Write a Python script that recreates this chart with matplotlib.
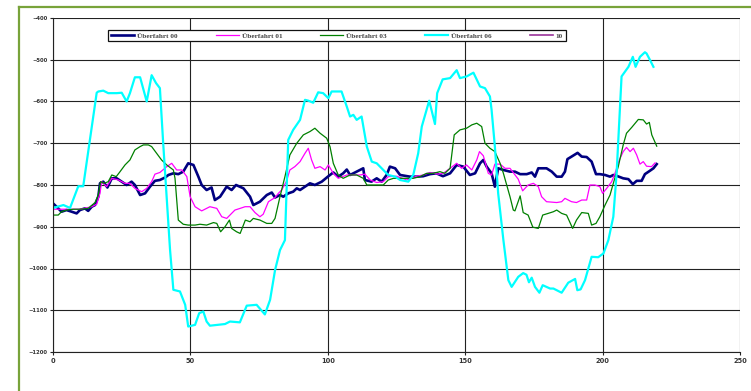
import matplotlib
matplotlib.use("Agg")
import matplotlib.pyplot as plt
from matplotlib.lines import Line2D

# Überfahrt 00
navy_x = [0, 1.3, 3.1, 4.9, 6.8, 8.6, 9.8, 11.6, 12.8, 14.1,
          15.3, 16.5, 17.1, 18.3, 19.8, 21.4, 23.2, 25, 26.8, 28.6,
          29.8, 31.7, 33.5, 35.3, 37.1, 38.9, 40.8, 42, 43.8, 45.6,
          47.4, 49.2, 51.1, 52.9, 54.1, 55.9, 57.7, 58.9, 60.8, 63.2,
          65, 66.6, 69.3, 71.7, 72.9, 75.3, 77.8, 79.6, 80.8, 82.6,
          83.8, 85.6, 87.4, 88.7, 89.9, 91.7, 93.5, 95.3, 97.8, 100.2,
          102, 103.8, 105.6, 106.9, 108.1, 110.5, 112.9, 113.5, 115.9, 117.8,
          119.6, 121.4, 122.6, 124.5, 126.3, 128.1, 129.9, 132.3, 134.7, 137.2,
          139.5, 141.9, 144.5, 146.9, 149.3, 151.7, 153.6, 155.4, 156.6, 157.8,
          159.6, 160.8, 162, 163.9, 166.3, 168.1, 170, 172.4, 174.2, 175.4,
          176.6, 179.6, 181.5, 183.3, 185.1, 186.3, 187.2, 188.7, 190.9, 192.4,
          194.2, 196, 197.6, 199, 200.9, 202.7, 203.9, 205.1, 207.5, 209.4,
          211, 212.4, 214.2, 215.4, 217.2, 218.5, 219.7]
navy_y = [-844, -852, -864, -860, -864, -868, -860, -856, -862, -852,
          -848, -828, -796, -792, -806, -784, -784, -792, -800, -792,
          -800, -824, -820, -804, -790, -788, -782, -776, -772, -774,
          -768, -748, -752, -780, -800, -812, -806, -836, -828, -804,
          -812, -800, -808, -828, -848, -840, -824, -818, -830, -824,
          -828, -820, -816, -808, -812, -804, -796, -800, -792, -779,
          -770, -780, -772, -763, -776, -768, -760, -788, -792, -784,
          -792, -776, -756, -760, -776, -778, -780, -780, -779, -774,
          -772, -779, -772, -752, -756, -776, -772, -748, -740, -756,
          -772, -804, -760, -764, -768, -768, -774, -774, -770, -780,
          -760, -760, -768, -780, -780, -768, -738, -732, -723, -732,
          -733, -744, -774, -774, -776, -780, -776, -778, -784, -786,
          -798, -790, -790, -774, -766, -760, -750]

# Überfahrt 01
mag_x = [0, 4.9, 9.8, 14.1, 15.9, 17.1, 17.7, 19.5, 21.4, 23.8,
         26.2, 28, 29.8, 32.3, 34.1, 35.9, 37.1, 38.9, 41.4, 43.2,
         45, 46.9, 48.7, 49.9, 51.7, 54.1, 57.1, 59.6, 61.4, 63.2,
         64.4, 66.2, 68.1, 69.9, 71.7, 73.5, 75.3, 76.5, 78.4, 80.8,
         82, 83.2, 84.9, 86.2, 88, 89.9, 91.7, 92.9, 94.1, 95.3,
         97.2, 99, 100.2, 102, 103.8, 106.9, 109.3, 111.7, 113.5, 115.4,
         117.8, 120.2, 122, 125.1, 128.7, 132.3, 134.7, 137.2, 140.2, 142,
         144.5, 146.9, 148.7, 150.5, 152.4, 154.2, 155.2, 156.6, 158.4, 159.6,
         160.8, 162.7, 164.5, 166.3, 169.3, 170.9, 172.9, 174.8, 176.6, 177.8,
         179.6, 183.3, 185.1, 186.3, 188.7, 190.5, 192.4, 194.2, 195.4, 197.2,
         199, 200, 201.5, 203.3, 204.5, 206.1, 207.5, 208.7, 210, 211.2,
         212.4, 213.6, 214.8, 216, 217.8, 219.1]
mag_y = [-858, -858, -858, -852, -846, -820, -792, -804, -784, -788,
         -796, -796, -808, -816, -808, -792, -774, -770, -756, -748,
         -764, -764, -780, -828, -852, -862, -852, -856, -876, -880,
         -872, -860, -856, -852, -852, -866, -876, -870, -840, -830,
         -820, -812, -792, -764, -756, -744, -724, -712, -740, -760,
         -756, -764, -752, -772, -784, -776, -776, -776, -774, -788,
         -794, -792, -780, -779, -788, -779, -776, -770, -774, -772,
         -760, -748, -760, -752, -764, -740, -720, -730, -772, -776,
         -750, -750, -760, -760, -786, -814, -800, -796, -804, -828,
         -840, -842, -840, -832, -840, -842, -836, -836, -800, -800,
         -804, -820, -808, -792, -772, -740, -720, -710, -720, -712,
         -728, -750, -744, -755, -756, -747]

# Überfahrt 03
green_x = [0, 1.9, 3.1, 4.9, 7.4, 9.8, 12.8, 15.3, 16.5, 17.3,
           18.6, 20.1, 21.4, 23, 24.4, 26.2, 28, 29.8, 31.7, 32.9,
           34.7, 35.9, 37.7, 39.5, 41.4, 43.8, 44.4, 45.6, 47.4, 49.2,
           51.7, 53.5, 55.9, 58.4, 59.6, 61, 62.6, 64.2, 65, 66.8,
           68.1, 70, 71.7, 72.9, 75.3, 77.8, 79.6, 80.8, 82.6, 84.4,
           86.2, 88.7, 91.1, 93.5, 95.3, 97.2, 99.6, 100.8, 102, 103.8,
           105.6, 108.1, 110.5, 112.9, 114.2, 117.8, 120.2, 122, 123.9, 127.5,
           131.1, 133.5, 136, 138.4, 140.8, 142.6, 144.5, 146, 148.1, 150.5,
           152.4, 154.2, 156, 157.2, 159, 160.8, 162.7, 163.9, 165.1, 166.3,
           167.5, 168.1, 170, 171.1, 172.9, 174.6, 176.6, 178.2, 180.2, 182.1,
           183.3, 185.1, 186.9, 189.1, 190.5, 192.4, 194.8, 196, 197.6, 199,
           200.9, 202.7, 203.9, 205.7, 207.5, 208.7, 210.6, 213, 214.8, 216,
           217, 217.9, 219.7]
green_y = [-872, -872, -864, -860, -858, -858, -856, -842, -823, -792,
           -796, -792, -776, -780, -768, -752, -740, -716, -708, -704,
           -704, -708, -724, -740, -752, -764, -784, -884, -894, -896,
           -896, -894, -896, -890, -892, -912, -900, -884, -904, -912,
           -916, -884, -888, -880, -884, -892, -892, -880, -828, -780,
           -728, -700, -680, -672, -664, -676, -688, -708, -748, -776,
           -784, -776, -776, -784, -800, -800, -800, -788, -784, -784,
           -784, -780, -772, -772, -768, -772, -760, -680, -668, -664,
           -656, -652, -660, -700, -712, -720, -748, -772, -800, -828,
           -860, -862, -826, -866, -872, -901, -904, -872, -868, -864,
           -860, -868, -872, -904, -884, -866, -868, -896, -892, -876,
           -848, -824, -796, -756, -704, -676, -662, -643, -644, -654,
           -650, -680, -707]

# Überfahrt 06
cyan_x = [0, 3.8, 6.2, 9.2, 11, 15.9, 16.5, 18.3, 20.1, 23.2,
          25, 26.8, 28, 29.8, 31.7, 34.1, 35.9, 37.5, 38.9, 40.1,
          42.6, 43.8, 46.2, 48.1, 49.2, 51.7, 53.2, 54.7, 55.9, 57.1,
          62.6, 64.4, 68, 70.5, 74.1, 77.1, 79, 80.8, 82.6, 84.4,
          85.6, 87.4, 89.9, 91.7, 92.9, 94.7, 96.5, 98.3, 100.2, 101.4,
          105, 106.9, 108.1, 109.3, 110.5, 112.3, 114.2, 116, 117.8, 120.2,
          122, 124.5, 126.3, 129.3, 131.1, 132.9, 134.2, 136.9, 139, 139.8,
          141.8, 144.5, 146.9, 148.1, 150.5, 153, 155.4, 157.2, 159, 159.6,
          160.8, 162, 163.9, 165.7, 166.9, 169.3, 171.1, 172.3, 173.2, 174.2,
          175.4, 177, 178.2, 180.9, 182.1, 185.1, 187.5, 190, 190.8, 192,
          193.6, 196, 198.4, 200.3, 202.1, 203.9, 205.1, 206.9, 209.4, 211,
          212, 213.6, 215.4, 216, 217.2, 218.5]
cyan_y = [-855, -848, -855, -803, -803, -579, -576, -574, -580, -580,
          -579, -600, -580, -542, -542, -600, -537, -556, -568, -700,
          -956, -1051, -1055, -1087, -1139, -1135, -1107, -1103, -1127, -1137,
          -1133, -1127, -1129, -1089, -1087, -1110, -1075, -1004, -956, -932,
          -692, -668, -644, -596, -598, -603, -578, -580, -592, -576,
          -576, -612, -636, -632, -644, -636, -708, -744, -748, -764,
          -776, -780, -788, -792, -776, -724, -660, -598, -654, -580,
          -547, -544, -525, -544, -540, -531, -564, -568, -588, -620,
          -708, -820, -932, -1028, -1044, -1020, -1011, -1015, -1033, -1022,
          -1044, -1058, -1040, -1048, -1048, -1058, -1034, -1025, -1052, -1050,
          -1028, -972, -973, -964, -932, -876, -772, -540, -517, -493,
          -517, -493, -482, -485, -500, -517]

# 10 (no samples recorded)
purple_x = []
purple_y = []

x_ticks = [0, 50, 100, 150, 200, 250]
y_ticks = [-1200, -1100, -1000, -900, -800, -700, -600, -500, -400]

W, H = 751, 391
fig = plt.figure(figsize=(W / 100, H / 100), dpi=100)
ax = fig.add_axes([53 / W, 1 - 352 / H, 687 / W, 334 / H])

ax.plot(navy_x, navy_y, color="#000080", lw=1.9, label="Überfahrt 00")
ax.plot(mag_x, mag_y, color="#ff00ff", lw=0.9, label="Überfahrt 01")
ax.plot(green_x, green_y, color="#008000", lw=0.9, label="Überfahrt 03")
ax.plot(cyan_x, cyan_y, color="#00ffff", lw=1.6, label="Überfahrt 06")
ax.plot(purple_x, purple_y, color="#993399", lw=1.2, label="10")

ax.set_xlim(0, 250)
ax.set_ylim(-1200, -400)
ax.set_xticks(x_ticks)
ax.set_yticks(y_ticks)
ax.grid(True, color="#222222", lw=0.8)
ax.set_axisbelow(True)
for s in ["top", "right"]:
    ax.spines[s].set_visible(False)
for s in ["left", "bottom"]:
    ax.spines[s].set_color("#222222")
    ax.spines[s].set_linewidth(0.8)
ax.tick_params(length=2.5, width=0.8, color="#222222", pad=1.5)
for lab in ax.get_xticklabels():
    lab.set_fontsize(4.8)
    lab.set_fontweight("bold")
    lab.set_color("#333333")
for lab in ax.get_yticklabels():
    lab.set_fontsize(3.8)
    lab.set_fontweight("bold")
    lab.set_color("#333333")

leg = ax.legend(loc="center", bbox_to_anchor=(108 / W, 1 - 48 / H, 458 / W, 25 / H),
                bbox_transform=fig.transFigure, mode="expand", ncol=5,
                prop={"family": "Liberation Serif", "weight": "bold", "size": 5.2},
                handlelength=3.2, handletextpad=0.4, borderaxespad=0,
                fancybox=False, framealpha=1, edgecolor="#111111")
leg.get_frame().set_linewidth(0.9)
for t in leg.get_texts():
    t.set_color("#444444")

# chart-area border
fig.add_artist(Line2D([18.5 / W, 18.5 / W], [0, 1 - 6.5 / H], transform=fig.transFigure,
                      color="#78a33a", lw=1.6))
fig.add_artist(Line2D([18.5 / W, 1], [1 - 6.5 / H, 1 - 6.5 / H], transform=fig.transFigure,
                      color="#78a33a", lw=1.6))

fig.savefig("out.png", dpi=100)
